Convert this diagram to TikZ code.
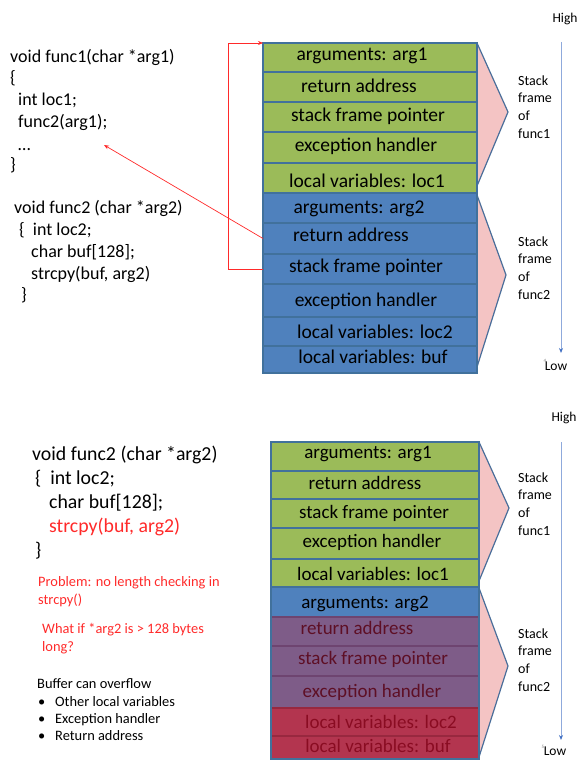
\documentclass[tikz,border=0pt]{standalone}
\usepackage{fontspec}
\setmainfont{Carlito}
\usetikzlibrary{arrows.meta}
\definecolor{sgreen}{HTML}{9BBB59}
\definecolor{sblue}{HTML}{4F81BD}
\definecolor{spurple}{HTML}{7E5C88}
\definecolor{sred}{HTML}{B3354F}
\definecolor{sborder}{HTML}{41719C}
\definecolor{pborder}{HTML}{6E4470}
\definecolor{rborder}{HTML}{98283F}
\definecolor{trifill}{HTML}{F4C4C4}
\definecolor{triline}{HTML}{4A6E9A}
\definecolor{axisline}{HTML}{8FAADC}
\definecolor{axistip}{HTML}{4472C4}
\definecolor{alarm}{HTML}{FF2A2A}
\definecolor{ptext}{HTML}{5E0F25}
\definecolor{rtext}{HTML}{8A0C22}
\begin{document}
\begin{tikzpicture}[x=1pt,y=-1pt,
  row/.style={draw=sborder, line width=1.2pt, inner sep=0, outer sep=0, anchor=north west},
  toprow/.style={row, minimum width=214},
  botrow/.style={row, minimum width=208},
  stxt/.style={font=\fontsize{19.5}{23}\selectfont, inner sep=0, text height=1.5ex, text depth=.25ex, yshift=-2.5pt},
  btxt/.style={font=\fontsize{19}{23}\selectfont, inner sep=0, text height=1.5ex, text depth=.25ex, yshift=-2.5pt},
  code/.style={font=\fontsize{18}{22}\selectfont, anchor=west, inner sep=0, text height=1.5ex, text depth=.25ex, yshift=-2.5pt},
  bcode/.style={font=\fontsize{19.8}{24}\selectfont, anchor=west, inner sep=0, text height=1.5ex, text depth=.25ex, yshift=-2.5pt},
  note/.style={font=\fontsize{14.4}{17.6}\selectfont, anchor=west, inner sep=0, text height=1.5ex, text depth=.25ex, yshift=-1.5pt},
  frametxt/.style={font=\fontsize{14}{17.7}\selectfont, anchor=west, align=left, inner sep=0},
  axislbl/.style={font=\fontsize{13.5}{16}\selectfont, inner sep=0},
  tiny/.style={font=\fontsize{5}{5}\selectfont, inner sep=0, text=gray},
  chevfill/.style={fill=trifill},
  chevline/.style={draw=triline, line width=1.2pt},
  axis/.style={draw=axisline, line width=0.9pt, -{Stealth[length=5pt,width=4pt,color=axistip]}},
  redarrow/.style={draw=alarm, line width=0.7pt, -{Stealth[length=5pt,width=4pt]}}
]
\useasboundingbox (0,0) rectangle (579,760);

% ---------------- TOP HALF ----------------
% code
\node[code] (c1) at (10,57) {void func1(char *arg1)};
\node[code] (c2) at (10,78) {\{};
\node[code] (c3) at (18,100) {int loc1;};
\node[code] (c4) at (18,122) {func2(arg1);};
\node[code] (c5) at (18,145) {…};
\node[code] (c6) at (10,165) {\}};
\node[code] (c7) at (14,208) {void func2 (char *arg2)};
\node[code] (c8) at (19,230) {\{\ \ int loc2;};
\node[code] (c9) at (31,252) {char buf[128];};
\node[code] (c10) at (31,274) {strcpy(buf, arg2)};
\node[code] (c11) at (21,295) {\}};
\coordinate (dots) at (104,145);

% chevrons
\fill[chevfill] (477,43) -- (508,112) -- (477,186) -- cycle;
\draw[chevline] (477,43) -- (508,112) -- (477,186);
\fill[chevfill] (477,195) -- (506,275) -- (477,367) -- cycle;
\draw[chevline] (477,195) -- (506,275) -- (477,367);

% stack rows
\node[toprow, fill=sgreen, minimum height=29] (t1arg) at (263,43) {};
\node[toprow, fill=sgreen, minimum height=30] (t1ret) at (263,72) {};
\node[toprow, fill=sgreen, minimum height=30] (t1sfp) at (263,102) {};
\node[toprow, fill=sgreen, minimum height=31] (t1exc) at (263,132) {};
\node[toprow, fill=sgreen, minimum height=30] (t1loc) at (263,163) {};
\node[toprow, fill=sblue, minimum height=30] (t2arg) at (263,193) {};
\node[toprow, fill=sblue, minimum height=31] (t2ret) at (263,223) {};
\node[toprow, fill=sblue, minimum height=30] (t2sfp) at (263,254) {};
\node[toprow, fill=sblue, minimum height=33] (t2exc) at (263,284) {};
\node[toprow, fill=sblue, minimum height=29] (t2loc) at (263,317) {};
\node[toprow, fill=sblue, minimum height=27] (t2buf) at (263,346) {};

\node[stxt] at (362,55) {arguments: arg1};
\node[stxt] at (359,87) {return address};
\node[stxt] at (368,116) {stack frame pointer};
\node[stxt] at (366,146) {exception handler};
\node[stxt] at (367,182) {local variables: loc1};
\node[stxt] at (359,208) {arguments: arg2};
\node[stxt] at (351,236) {return address};
\node[stxt] at (366,267) {stack frame pointer};
\node[stxt] at (366,301) {exception handler};
\node[stxt] at (375,333) {local variables: loc2};
\node[stxt] at (373,358) {local variables: buf};

\node[frametxt] (f1) at (518,107) {Stack\\frame\\of\\func1};
\node[frametxt] (f2) at (518,268) {Stack\\frame\\of\\func2};

% axis
\node[axislbl] (hi1) at (565,19) {High};
\node[axislbl] (lo1) at (556,366) {Low};
\node[tiny] at (545,361) {4};
\coordinate (ax1a) at (561,42);
\coordinate (ax1b) at (561,353);
\draw[axis] (ax1a) -- (ax1b);

% red connectors
\draw[redarrow] (t2sfp.west) -- ++(-35,0) |- (t1arg.north west);
\draw[redarrow] (t2ret.west) -- (dots);

% ---------------- BOTTOM HALF ----------------
\node[bcode] (d1) at (32,455) {void func2 (char *arg2)};
\node[bcode] (d2) at (35,479) {\{\ \ int loc2;};
\node[bcode] (d3) at (49,503) {char buf[128];};
\node[bcode, text=alarm] (d4) at (49,527) {strcpy(buf, arg2)};
\node[bcode] (d5) at (35,551) {\}};

\node[note, text=alarm] (n1) at (38,582) {Problem: no length checking in};
\node[note, text=alarm] (n2) at (38,600) {strcpy()};
\node[note, text=alarm] (n3) at (42,629) {What if *arg2 is > 128 bytes};
\node[note, text=alarm] (n4) at (42,647) {long?};
\node[note] (n5) at (37,684) {Buffer can overflow};
\node[note] (b1) at (38,702) {\textbullet};
\node[note] (b2) at (38,719) {\textbullet};
\node[note] (b3) at (38,736) {\textbullet};
\node[note] (n6) at (55,702) {Other local variables};
\node[note] (n7) at (55,719) {Exception handler};
\node[note] (n8) at (55,736) {Return address};

% chevrons
\fill[chevfill] (479,442) -- (509,508) -- (479,581) -- cycle;
\draw[chevline] (479,442) -- (509,508) -- (479,581);
\fill[chevfill] (479,588) -- (508,666) -- (479,757) -- cycle;
\draw[chevline] (479,588) -- (508,666) -- (479,757);

% stack rows
\node[botrow, fill=sgreen, minimum height=29] (b1arg) at (271,442) {};
\node[botrow, fill=sgreen, minimum height=28] (b1ret) at (271,471) {};
\node[botrow, fill=sgreen, minimum height=29] (b1sfp) at (271,499) {};
\node[botrow, fill=sgreen, minimum height=31] (b1exc) at (271,528) {};
\node[botrow, fill=sgreen, minimum height=28] (b1loc) at (271,559) {};
\node[botrow, fill=sblue, minimum height=30] (b2arg) at (271,587) {};
\node[botrow, fill=spurple, draw=pborder, minimum height=29] (b2ret) at (271,617) {};
\node[botrow, fill=spurple, draw=pborder, minimum height=30] (b2sfp) at (271,646) {};
\node[botrow, fill=spurple, draw=pborder, minimum height=32] (b2exc) at (271,676) {};
\node[botrow, fill=sred, draw=rborder, minimum height=28] (b2loc) at (271,708) {};
\node[botrow, fill=sred, draw=rborder, minimum height=23] (b2buf) at (271,736) {};
\draw[sborder, line width=1.2pt] (b1arg.north west) rectangle (b2buf.south east);

\node[btxt] at (368,453) {arguments: arg1};
\node[btxt] at (365,484) {return address};
\node[btxt] at (374,513) {stack frame pointer};
\node[btxt] at (372,542) {exception handler};
\node[btxt] at (373,575) {local variables: loc1};
\node[btxt] at (365,603) {arguments: arg2};
\node[btxt, text=ptext] at (357,629) {return address};
\node[btxt, text=ptext] at (373,659) {stack frame pointer};
\node[btxt, text=ptext] at (372,692) {exception handler};
\node[btxt, text=rtext] at (381,723) {local variables: loc2};
\node[btxt, text=rtext] at (378,747) {local variables: buf};

\node[frametxt] (f3) at (518,504) {Stack\\frame\\of\\func1};
\node[frametxt] (f4) at (518,660) {Stack\\frame\\of\\func2};

\node[axislbl] (hi2) at (564,418) {High};
\node[axislbl] (lo2) at (555,751) {Low};
\node[tiny] at (543,747) {5};
\coordinate (ax2a) at (561,442);
\coordinate (ax2b) at (561,740);
\draw[axis] (ax2a) -- (ax2b);
\end{tikzpicture}
\end{document}
